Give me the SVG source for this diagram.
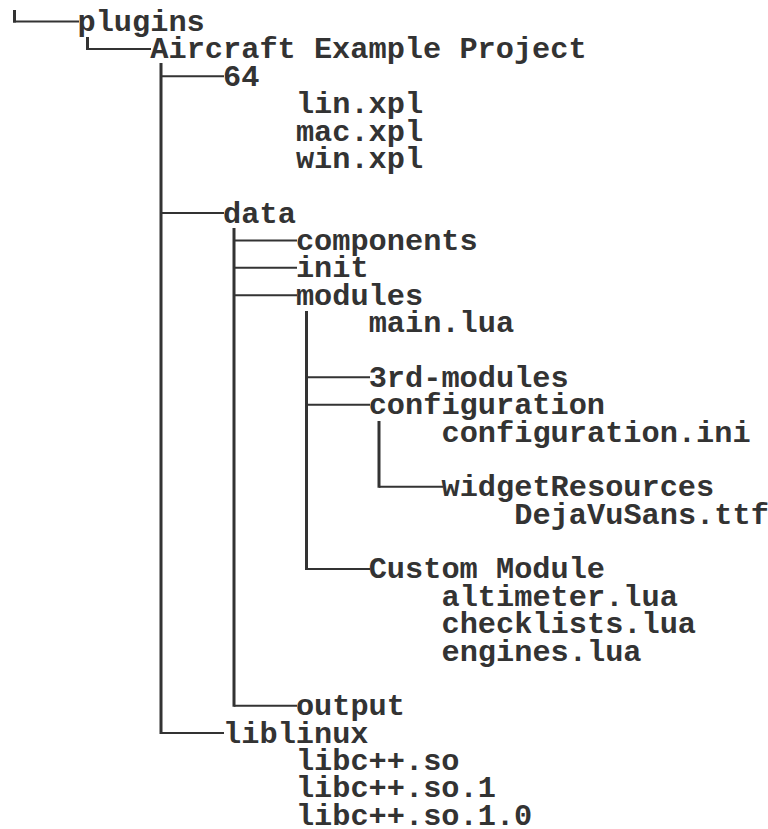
<svg xmlns="http://www.w3.org/2000/svg" width="768" height="829" viewBox="0 0 768 829">
<style>
text{font-family:"Liberation Mono","DejaVu Sans Mono",monospace;font-weight:bold;font-size:30.3px;fill:#333}
.v{stroke:#333;stroke-width:3;fill:none}
.h{stroke:#333;stroke-width:2;fill:none}
</style>
<rect width="768" height="829" fill="#fff"/>
<g id="connectors">
<path class="v" d="M14.5 10V22.5M87.5 37V49.9M161 63V734.1M234 228V706.7M306.5 311V569.9M379 421V487.8"/>
<path class="h" d="M13 21.5H79M86 48.9H151M161 76.2H224M161 213.1H224M161 733.1H224M234 240.5H297M234 267.8H297M234 295.2H297M234 705.7H297M306.5 377.3H370M306.5 404.7H370M306.5 568.9H370M379 486.8H443"/>
</g>
<g id="n-plugins"><text x="77.5" y="31">plugins</text></g>
<g id="n-aircraft"><text x="150.3" y="58.4">Aircraft Example Project</text></g>
<g id="n-64"><text x="223.1" y="85.7">64</text></g>
<g id="n-lin"><text x="295.9" y="113.1">lin.xpl</text></g>
<g id="n-mac"><text x="295.9" y="140.5">mac.xpl</text></g>
<g id="n-win"><text x="295.9" y="167.9">win.xpl</text></g>
<g id="n-data"><text x="223.1" y="222.6">data</text></g>
<g id="n-components"><text x="295.9" y="250">components</text></g>
<g id="n-init"><text x="295.9" y="277.3">init</text></g>
<g id="n-modules"><text x="295.9" y="304.7">modules</text></g>
<g id="n-main"><text x="368.7" y="332.1">main.lua</text></g>
<g id="n-3rd"><text x="368.7" y="386.8">3rd-modules</text></g>
<g id="n-configuration"><text x="368.7" y="414.2">configuration</text></g>
<g id="n-configini"><text x="441.5" y="441.6">configuration.ini</text></g>
<g id="n-widget"><text x="441.5" y="496.3">widgetResources</text></g>
<g id="n-dejavu"><text x="514.3" y="523.7">DejaVuSans.ttf</text></g>
<g id="n-custom"><text x="368.7" y="578.4">Custom Module</text></g>
<g id="n-altimeter"><text x="441.5" y="605.8">altimeter.lua</text></g>
<g id="n-checklists"><text x="441.5" y="633.1">checklists.lua</text></g>
<g id="n-engines"><text x="441.5" y="660.5">engines.lua</text></g>
<g id="n-output"><text x="295.9" y="715.2">output</text></g>
<g id="n-liblinux"><text x="223.1" y="742.6">liblinux</text></g>
<g id="n-libc"><text x="295.9" y="770">libc++.so</text></g>
<g id="n-libc1"><text x="295.9" y="797.4">libc++.so.1</text></g>
<g id="n-libc10"><text x="295.9" y="824.7">libc++.so.1.0</text></g>
</svg>
